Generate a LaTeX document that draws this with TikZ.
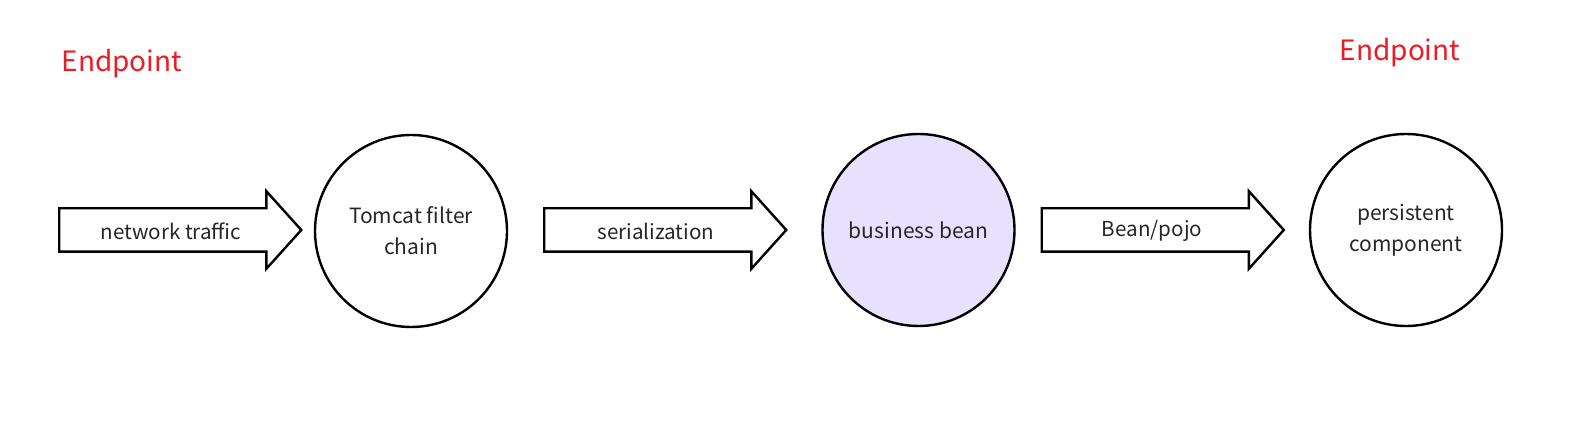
\documentclass[tikz,border=0pt]{standalone}
\usepackage{fontspec}
\newfontfamily\diagfont{Noto Sans CJK SC}
\usetikzlibrary{shapes.arrows}
\definecolor{testo}{RGB}{38,38,38}
\definecolor{rosso}{RGB}{236,28,36}
\definecolor{lilla}{RGB}{232,225,253}
\tikzset{
  stadio/.style={circle,draw=black,line width=2.4bp,minimum size=192bp,inner sep=0pt,
    align=center,text=testo,font=\diagfont\fontsize{21bp}{30bp}\selectfont},
  freccia/.style={single arrow,draw=black,line width=2.4bp,minimum height=242bp,
    minimum width=75bp,single arrow head extend=17bp,single arrow tip angle=96,
    single arrow head indent=0pt,inner xsep=0pt,inner ysep=20.5bp},
  etichetta/.style={text=testo,font=\diagfont\fontsize{20.6bp}{24bp}\selectfont},
  estremo/.style={text=rosso,font=\diagfont\fontsize{28bp}{32bp}\selectfont}
}
\begin{document}
\begin{tikzpicture}[x=1bp,y=-1bp]
    \useasboundingbox (0,0) rectangle (1585,441);

    % cerchi
    \node[stadio] (tomcat) at (411,231) {Tomcat filter\\[1bp]chain};
    \node[stadio,fill=lilla] (bean) at (918.5,230) {business bean};
    \node[stadio] (persist) at (1406,230) {persistent\\[1bp]component};

    % frecce
    \node[freccia] (traffic) at (170.5,230) {};
    \node[freccia] (serial) at (655.5,230) {};
    \node[freccia] (pojo) at (1153,230) {};

    \node[etichetta] (traffictxt) at (171,231) {network traffic};
    \node[etichetta] (serialtxt) at (656,231) {serialization};
    \node[etichetta] (pojotxt) at (1152,231) {Bean/pojo};

    % endpoint
    \node[estremo] (endl) at (122,64) {Endpoint};
    \node[estremo] (endr) at (1400,53) {Endpoint};
\end{tikzpicture}
\end{document}
